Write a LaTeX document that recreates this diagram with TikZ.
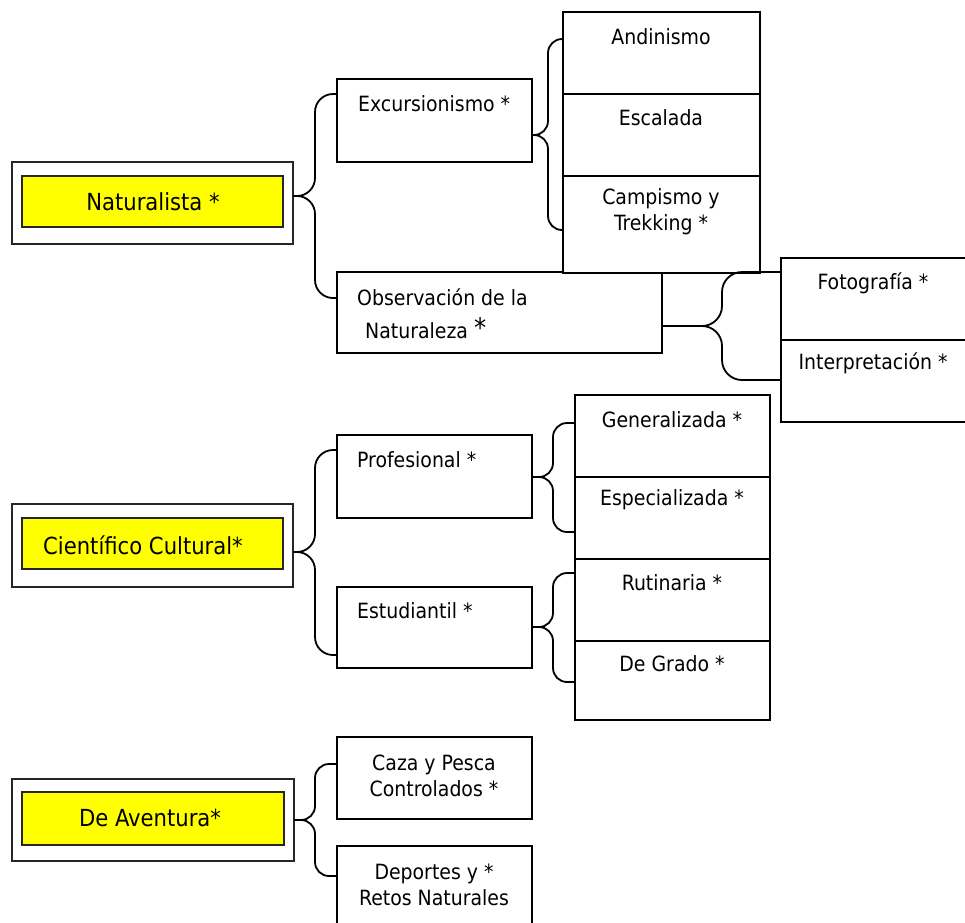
\documentclass[tikz,border=0pt]{standalone}
\usepackage{fontspec}
\setmainfont{DejaVu Sans Condensed}
\usetikzlibrary{calc}
\definecolor{ylw}{RGB}{255,255,0}
\newcommand\mybox[6]{\node[#1,anchor=north west,minimum width={#5-#3},minimum height={#6-#4}] (#2) at (#3,#4) {};}
\tikzset{
  boxst/.style={draw=black,line width=1.8pt,inner sep=0pt,outer sep=0pt,fill=white},
  outerst/.style={draw=black!85,line width=1.8pt,inner sep=0pt,outer sep=0pt,fill=white},
  yellowst/.style={draw=black!85,line width=1.8pt,inner sep=0pt,outer sep=0pt,fill=ylw},
  txt/.style={inner sep=0pt,font=\fontsize{21}{26}\selectfont,align=center},
  bigtxt/.style={inner sep=0pt,font=\fontsize{23.5}{28}\selectfont},
  bracest/.style={draw=black,line width=1.8pt,rounded corners=14pt},
  bracebig/.style={draw=black,line width=1.8pt,rounded corners=18pt},
  bracewide/.style={draw=black,line width=1.8pt,rounded corners=20pt},
}
\begin{document}
\begin{tikzpicture}[x=1pt,y=-1pt]
\useasboundingbox (0,0) rectangle (965,922);
% ---------- Naturalista ----------
\mybox{outerst}{natO}{12}{162}{293}{244}
\mybox{yellowst}{natI}{22}{176}{283}{227}
\node[bigtxt] (natT) at (153,202) {Naturalista *};
\mybox{boxst}{exc}{337}{79}{532}{162}
\node[txt,anchor=west] (excT) at (358,104) {Excursionismo *};
\mybox{boxst}{obs}{337}{272}{662}{353}
\node[txt,anchor=west] (obsT1) at (357,297) {Observación de la};
\node[txt,anchor=west] (obsT2) at (365,328) {Naturaleza {\fontsize{27}{27}\selectfont\raisebox{1pt}{*}}};
\mybox{boxst}{and}{563}{12}{760}{94}
\mybox{boxst}{esc}{563}{94}{760}{176}
\mybox{boxst}{cam}{563}{176}{760}{273}
\node[txt] (andT) at (661,37) {Andinismo};
\node[txt] (escT) at (661,118) {Escalada};
\node[txt] (camT) at (661,212) {Campismo y\\Trekking *};
\mybox{boxst}{fot}{781}{258}{967}{340}
\mybox{boxst}{int}{781}{340}{967}{422}
\node[txt] (fotT) at (873,283) {Fotografía *};
\node[txt] (intT) at (873,363) {Interpretación *};
% braces
\coordinate (natV) at (315,196);
\coordinate (natA) at ([yshift=-15pt]exc.north west);
\coordinate (natB) at ([yshift=-26pt]obs.north west);
\draw[bracebig] (natA) -- (natA -| natV) -- (natV) -- (natO.east |- natV);
\draw[bracebig] (natB) -- (natB -| natV) -- (natV) -- (natO.east |- natV);
\coordinate (excV) at (548,135);
\coordinate (excA) at ([yshift=-27pt]and.north west);
\coordinate (excB) at ([yshift=-54pt]cam.north west);
\draw[bracest] (excA) -- (excA -| excV) -- (excV) -- (exc.east |- excV);
\draw[bracest] (excB) -- (excB -| excV) -- (excV) -- (exc.east |- excV);
\coordinate (obsV) at (722,326);
\coordinate (obsA) at ([yshift=-14pt]fot.north west);
\coordinate (obsB) at ([yshift=-40pt]int.north west);
\draw[bracewide] (obsA) -- (obsA -| obsV) -- (obsV) -- (obs.east |- obsV);
\draw[bracewide] (obsB) -- (obsB -| obsV) -- (obsV) -- (obs.east |- obsV);
% ---------- Cientifico Cultural ----------
\mybox{outerst}{cieO}{12}{504}{293}{587}
\mybox{yellowst}{cieI}{22}{518}{283}{569}
\node[bigtxt,anchor=west] (cieT) at (43,545) {Científico Cultural*};
\mybox{boxst}{pro}{337}{435}{532}{518}
\node[txt,anchor=west] (proT) at (357,460) {Profesional *};
\mybox{boxst}{est}{337}{587}{532}{668}
\node[txt,anchor=west] (estT) at (357,611) {Estudiantil *};
\mybox{boxst}{gen}{575}{395}{770}{477}
\mybox{boxst}{esp}{575}{477}{770}{559}
\mybox{boxst}{rut}{575}{559}{770}{641}
\mybox{boxst}{gra}{575}{641}{770}{720}
\node[txt] (genT) at (672,420) {Generalizada *};
\node[txt] (espT) at (672,500) {Especializada *};
\node[txt] (rutT) at (672,583) {Rutinaria *};
\node[txt] (graT) at (672,664) {De Grado *};
\coordinate (cieV) at (315,552);
\coordinate (cieA) at ([yshift=-15pt]pro.north west);
\coordinate (cieB) at ([yshift=-68pt]est.north west);
\draw[bracebig] (cieA) -- (cieA -| cieV) -- (cieV) -- (cieO.east |- cieV);
\draw[bracebig] (cieB) -- (cieB -| cieV) -- (cieV) -- (cieO.east |- cieV);
\coordinate (proV) at (553,477);
\coordinate (proA) at ([yshift=-28pt]gen.north west);
\coordinate (proB) at ([yshift=-55pt]esp.north west);
\draw[bracest] (proA) -- (proA -| proV) -- (proV) -- (pro.east |- proV);
\draw[bracest] (proB) -- (proB -| proV) -- (proV) -- (pro.east |- proV);
\coordinate (estV) at (553,627);
\coordinate (estA) at ([yshift=-14pt]rut.north west);
\coordinate (estB) at ([yshift=-41pt]gra.north west);
\draw[bracest] (estA) -- (estA -| estV) -- (estV) -- (est.east |- estV);
\draw[bracest] (estB) -- (estB -| estV) -- (estV) -- (est.east |- estV);
% ---------- De Aventura ----------
\mybox{outerst}{avO}{12}{779}{294}{861}
\mybox{yellowst}{avI}{22}{792}{284}{845}
\node[bigtxt] (avT) at (150,818) {De Aventura*};
\mybox{boxst}{caz}{337}{737}{532}{819}
\node[txt] (cazT) at (434,776) {Caza y Pesca\\Controlados *};
\mybox{boxst}{dep}{337}{846}{532}{940}
\node[txt] (depT) at (434,885) {Deportes y *\\Retos Naturales};
\coordinate (avV) at (315,820);
\coordinate (avA) at ([yshift=-27pt]caz.north west);
\coordinate (avB) at ([yshift=-30pt]dep.north west);
\draw[bracest] (avA) -- (avA -| avV) -- (avV) -- (avO.east |- avV);
\draw[bracest] (avB) -- (avB -| avV) -- (avV) -- (avO.east |- avV);
\end{tikzpicture}
\end{document}
